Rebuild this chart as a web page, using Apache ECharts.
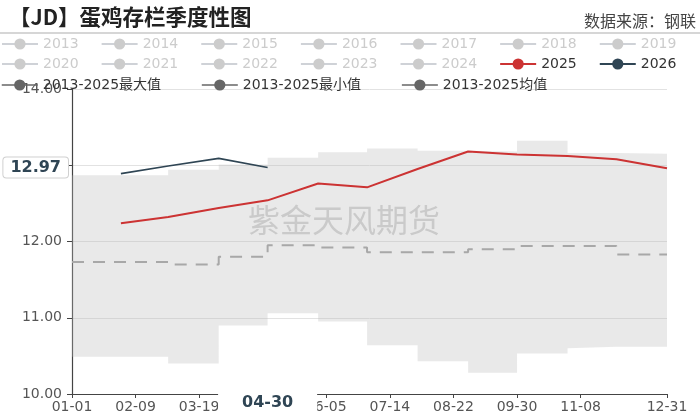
<!DOCTYPE html>
<html>
<head>
<meta charset="utf-8">
<script src="https://cdn.jsdelivr.net/npm/echarts@6/dist/echarts.min.js"></script>
<style>html,body{margin:0;padding:0;background:#fff;}#c{width:700px;height:414px;}</style>
</head>
<body>
<div id="c"></div>
<script>
// ---- data ----
const years = ['2013','2014','2015','2016','2017','2018','2019','2020','2021','2022','2023','2024','2025','2026'];
const monthEnds = ['01-31','02-29','03-31','04-30','05-31','06-30','07-31','08-31','09-30','10-31','11-30','12-31'];
const v2025 = [12.24,12.32,12.44,12.54,12.76,12.71,12.95,13.18,13.14,13.12,13.08,12.96];
const v2026 = [12.89,12.99,13.09,12.97];
const maxV  = [12.87,12.94,13.01,13.10,13.17,13.22,13.19,13.18,13.32,13.16,13.15,13.04];
const minV  = [10.49,10.40,10.90,11.06,10.95,10.64,10.43,10.28,10.53,10.60,10.62,10.58];
const meanV = [11.73,11.70,11.80,11.95,11.92,11.86,11.86,11.90,11.94,11.94,11.83,11.83];
const latestDate = '04-30';
const latestValue = 12.97;

// daily categories of a leap year (MM-DD)
const categories = [];
const mdays = [31,29,31,30,31,30,31,31,30,31,30,31];
for (let m = 0; m < 12; m++) for (let d = 1; d <= mdays[m]; d++)
  categories.push(String(m+1).padStart(2,'0') + '-' + String(d).padStart(2,'0'));

const FONT = "'DejaVu Sans','Noto Sans CJK SC',sans-serif";
const stepPts = arr => [['01-01', arr[0]]].concat(monthEnds.map((d,i)=>[d, arr[i]]));
const linePts = arr => arr.map((v,i)=>[monthEnds[i], v]);

const MAXN = '2013-2025最大值', MINN = '2013-2025最小值', MEANN = '2013-2025均值';
const selected = {};
years.forEach(y => selected[y] = (y === '2025' || y === '2026'));

const series = [];
// band: min (base) + (max-min)
series.push({
  name: MINN, type: 'line', stack: 'band', step: 'end', symbol: 'circle', showSymbol: false,
  data: stepPts(minV), lineStyle: {opacity: 0}, itemStyle: {color: '#666'}, silent: true, z: 1
});
series.push({
  name: MAXN, type: 'line', stack: 'band', step: 'end', symbol: 'circle', showSymbol: false,
  data: stepPts(maxV.map((v,i)=>+(v-minV[i]).toFixed(4))),
  lineStyle: {opacity: 0}, itemStyle: {color: '#666'},
  areaStyle: {color: 'rgba(185,185,185,0.45)'}, silent: true, z: 1
});
series.push({
  name: MEANN, type: 'line', step: 'end', symbol: 'circle', showSymbol: false,
  data: stepPts(meanV), itemStyle: {color: '#666'},
  lineStyle: {color: '#a8a8a8', width: 2, type: [12, 9]}, z: 2
});
years.forEach(y => {
  let data = [], color = '#ccc', width = 1.5;
  if (y === '2025') { data = linePts(v2025); color = '#cc3333'; width = 2; }
  if (y === '2026') { data = linePts(v2026); color = '#2f4554'; width = 1.6; }
  series.push({
    name: y, type: 'line', symbol: 'circle', showSymbol: false, data: data,
    itemStyle: {color: color}, lineStyle: {color: color, width: width}, z: 3
  });
});

const legendBase = {
  left: -4, itemWidth: 36, itemHeight: 14, itemGap: 22, selected: selected,
  inactiveColor: '#ccc', textStyle: {fontSize: 14, color: '#333', fontFamily: FONT}
};
const statItem = n => ({name: n,
  itemStyle: {color: '#666', opacity: 1}, lineStyle: {color: '#666', opacity: 1, width: 1.5, type: 'solid'}});

const option = {
  animation: false,
  textStyle: {fontFamily: FONT},
  title: [
    {text: '【JD】蛋鸡存栏季度性图', left: 4, top: 1,
     textStyle: {fontSize: 21.5, fontWeight: 'bold', color: '#222', fontFamily: "'Noto Sans CJK SC',sans-serif"}},
    {text: '数据来源：钢联', left: 579, top: 8,
     textStyle: {fontSize: 16, fontWeight: 'normal', color: '#444', fontFamily: "'Noto Sans CJK SC',sans-serif"}}
  ],
  legend: [
    Object.assign({}, legendBase, {top: 32, data: years.slice(0,7)}),
    Object.assign({}, legendBase, {top: 52, data: years.slice(7,14)}),
    Object.assign({}, legendBase, {top: 73, itemGap: 40, data: [MAXN, MINN, MEANN].map(statItem)})
  ],
  graphic: [
    {type: 'line', shape: {x1: 0, y1: 33, x2: 700, y2: 33}, style: {stroke: '#c8c8c8', lineWidth: 1.5}, z: 10},
    {type: 'text', left: 248, top: 204, z: 100, silent: true,
     style: {text: '紫金天风期货', fontSize: 32, fill: 'rgba(128,128,128,0.3)', fontFamily: "'Noto Sans CJK SC',sans-serif"}}
  ],
  grid: {left: 72, right: 33, top: 89, bottom: 19, containLabel: false},
  xAxis: {
    type: 'category', data: categories, boundaryGap: false,
    axisLine: {lineStyle: {color: '#444', width: 1.2}},
    axisTick: {alignWithLabel: true, length: 4, lineStyle: {color: '#444'},
      interval: (i) => (i % 39 === 0 && i <= 312) || i === 365},
    axisLabel: {fontSize: 14, color: '#555', margin: 6, fontFamily: FONT,
      interval: (i) => (i % 39 === 0 && i <= 312) || i === 365},
    splitLine: {show: false},
    axisPointer: {
      show: true, type: 'line', value: latestDate, status: 'show', snap: false, triggerTooltip: false,
      lineStyle: {opacity: 0},
      label: {show: true, backgroundColor: '#fff', color: '#2f4554', fontWeight: 'bold', fontSize: 16,
        padding: [3, 24, 3, 24], margin: 3, fontFamily: FONT, shadowBlur: 0}
    }
  },
  yAxis: {
    type: 'value', min: 10, max: 14, interval: 1,
    axisLine: {show: true, lineStyle: {color: '#444', width: 1.2}},
    axisTick: {show: true, length: 5, lineStyle: {color: '#444'}},
    axisLabel: {fontSize: 14, color: '#555', margin: 10, fontFamily: FONT,
      formatter: v => v.toFixed(2)},
    splitLine: {lineStyle: {color: '#e2e2e2'}},
    axisPointer: {
      show: true, type: 'line', value: latestValue, status: 'show', triggerTooltip: false,
      lineStyle: {opacity: 0},
      label: {show: true, backgroundColor: '#fff', borderColor: '#d0d0d0', borderWidth: 1,
        color: '#2f4554', fontWeight: 'bold', fontSize: 16, padding: [2, 7, 2, 7], margin: 4,
        fontFamily: FONT, formatter: p => Number(p.value).toFixed(2), shadowBlur: 0}
    }
  },
  series: series
};

const chart = echarts.init(document.getElementById('c'), null, {renderer: 'canvas'});
chart.setOption(option);
</script>
</body>
</html>
